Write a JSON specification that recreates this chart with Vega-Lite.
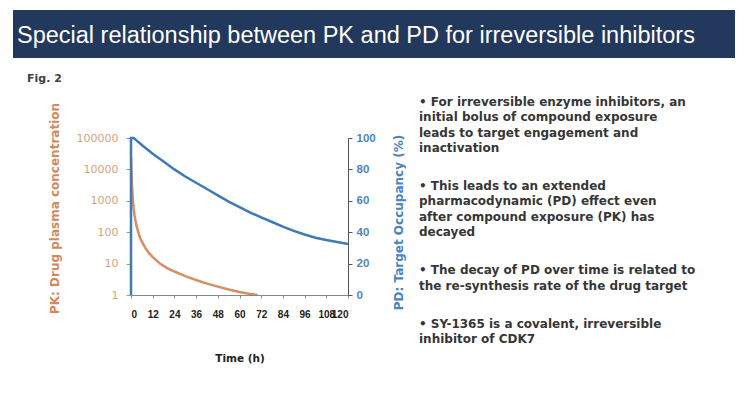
{
  "$schema": "https://vega.github.io/schema/vega-lite/v6.json",
  "background": "white",
  "padding": {"left": 13, "top": 10, "right": 0, "bottom": 0},
  "datasets": {
    "pk": [
      {"t": 0, "c": 25000}, {"t": 0.5, "c": 3500}, {"t": 1, "c": 1100}, {"t": 1.5, "c": 550},
      {"t": 2, "c": 330}, {"t": 3, "c": 165}, {"t": 4, "c": 100}, {"t": 5, "c": 68},
      {"t": 6, "c": 50}, {"t": 8, "c": 31}, {"t": 10, "c": 21.5}, {"t": 12, "c": 16},
      {"t": 16, "c": 10}, {"t": 20, "c": 7.2}, {"t": 24, "c": 5.6}, {"t": 30, "c": 4.0},
      {"t": 36, "c": 3.0}, {"t": 42, "c": 2.3}, {"t": 48, "c": 1.85}, {"t": 54, "c": 1.5},
      {"t": 60, "c": 1.25}, {"t": 66, "c": 1.07}, {"t": 70, "c": 1.0}
    ],
    "pd": [
      {"t": 0, "o": 0}, {"t": 0, "o": 100}, {"t": 1.5, "o": 100}, {"t": 3, "o": 98.5},
      {"t": 6, "o": 95.5}, {"t": 12, "o": 90}, {"t": 18, "o": 85}, {"t": 24, "o": 80},
      {"t": 30, "o": 75.5}, {"t": 36, "o": 71.5}, {"t": 42, "o": 67.5}, {"t": 48, "o": 63.5},
      {"t": 54, "o": 59.5}, {"t": 60, "o": 56}, {"t": 66, "o": 52.5}, {"t": 72, "o": 49.5},
      {"t": 78, "o": 46.5}, {"t": 84, "o": 43.5}, {"t": 90, "o": 40.8}, {"t": 96, "o": 38.5},
      {"t": 102, "o": 36.5}, {"t": 108, "o": 35}, {"t": 114, "o": 33.8}, {"t": 120, "o": 32.5}
    ],
    "notes": [
      {"line": 0, "text": "\u00a0\u00a0\u00a0\u00a0•\u00a0For irreversible enzyme inhibitors, an"},
      {"line": 1, "text": "\u00a0\u00a0\u00a0\u00a0\u00a0\u00a0\u00a0initial bolus of compound exposure"},
      {"line": 2, "text": "\u00a0\u00a0\u00a0\u00a0\u00a0\u00a0\u00a0leads to target engagement and"},
      {"line": 3, "text": "\u00a0\u00a0\u00a0\u00a0\u00a0\u00a0\u00a0inactivation"},
      {"line": 5.5, "text": "\u00a0\u00a0\u00a0\u00a0•\u00a0This leads to an extended"},
      {"line": 6.5, "text": "\u00a0\u00a0\u00a0\u00a0\u00a0\u00a0\u00a0pharmacodynamic (PD) effect even"},
      {"line": 7.5, "text": "\u00a0\u00a0\u00a0\u00a0\u00a0\u00a0\u00a0after compound exposure (PK) has"},
      {"line": 8.5, "text": "\u00a0\u00a0\u00a0\u00a0\u00a0\u00a0\u00a0decayed"},
      {"line": 11, "text": "\u00a0\u00a0\u00a0\u00a0•\u00a0The decay of PD over time is related to"},
      {"line": 12, "text": "\u00a0\u00a0\u00a0\u00a0\u00a0\u00a0\u00a0the re-synthesis rate of the drug target"},
      {"line": 14.5, "text": "\u00a0\u00a0\u00a0\u00a0•\u00a0SY-1365 is a covalent, irreversible"},
      {"line": 15.5, "text": "\u00a0\u00a0\u00a0\u00a0\u00a0\u00a0\u00a0inhibitor of CDK7"}
    ],
    "banner": [
      {"text": "Special relationship between PK and PD for irreversible inhibitors"}
    ]
  },
  "vconcat": [
    {
      "width": 722,
      "height": 48,
      "view": {"fill": "#22395d", "stroke": null},
      "data": {"name": "banner"},
      "mark": {"type": "text", "align": "left", "baseline": "alphabetic", "dx": 4, "dy": 9, "font": "Liberation Sans", "fontSize": 23.5, "color": "white"},
      "encoding": {
        "x": {"datum": 0, "type": "quantitative", "scale": {"domain": [0, 1]}, "axis": null},
        "text": {"field": "text"}
      }
    },
    {
      "hconcat": [
        {
          "width": 1,
          "height": 1,
          "view": {"stroke": null},
          "data": {"name": "banner"},
          "mark": {"type": "rect", "opacity": 0}
        },
        {
          "width": 217,
          "height": 157,
          "view": {"stroke": null},
          "title": {"text": "Fig. 2", "anchor": "start", "frame": "bounds", "font": "DejaVu Sans", "fontSize": 11, "fontWeight": "bold", "color": "#404040", "offset": 18, "dx": -21},
          "encoding": {
            "x": {"field": "t", "type": "quantitative", "scale": {"domain": [0, 120], "nice": false},
              "axis": {"values": [0, 12, 24, 36, 48, 60, 72, 84, 96, 108, 120], "labelOverlap": false, "grid": false, "title": "Time (h)",
                "labelFont": "Liberation Sans", "labelFontSize": 10, "labelFontWeight": "bold", "labelColor": "#222222",
                "labelPadding": 11, "tickSize": 3, "tickColor": "#888888", "domainColor": "#888888",
                "titleFont": "DejaVu Sans", "titleFontSize": 10.5, "titleFontWeight": "bold", "titleColor": "#222222", "titlePadding": 34}}
          },
          "layer": [
            {
              "data": {"name": "pk"},
              "mark": {"type": "line", "color": "#d98d60", "strokeWidth": 2.5, "clip": true},
              "encoding": {
                "y": {"field": "c", "type": "quantitative", "scale": {"type": "log", "domain": [1, 100000], "nice": false},
                  "axis": {"orient": "left", "values": [1, 10, 100, 1000, 10000, 100000], "format": "d", "grid": false,
                    "title": "PK: Drug plasma concentration",
                    "labelFont": "DejaVu Sans", "labelFontSize": 11, "labelColor": "#d9a27e", "labelPadding": 8,
                    "tickSize": 5, "tickColor": "#999999", "domainColor": "#999999",
                    "titleFont": "DejaVu Sans", "titleFontSize": 12, "titleFontWeight": "bold", "titleColor": "#d4895b",
                    "titlePadding": 15, "titleY": 70}}
              }
            },
            {
              "data": {"name": "pd"},
              "mark": {"type": "line", "color": "#3f7ab8", "strokeWidth": 2.5},
              "encoding": {
                "y": {"field": "o", "type": "quantitative", "scale": {"domain": [0, 100], "nice": false},
                  "axis": {"orient": "right", "values": [0, 20, 40, 60, 80, 100], "grid": false,
                    "title": "PD: Target Occupancy (%)",
                    "labelFont": "Liberation Sans", "labelFontSize": 11.5, "labelFontWeight": "bold", "labelColor": "#4d86c1", "labelPadding": 4,
                    "tickSize": 4, "tickColor": "#555555", "domainColor": "#555555",
                    "titleFont": "DejaVu Sans", "titleFontSize": 12, "titleFontWeight": "bold", "titleColor": "#4a83bf",
                    "titlePadding": 18, "titleAngle": 270, "titleBaseline": "top", "titleY": 84}}
              }
            }
          ],
          "resolve": {"scale": {"y": "independent"}}
        },
        {
          "width": 297,
          "height": 157,
          "view": {"stroke": "transparent"},
          "data": {"name": "notes"},
          "mark": {"type": "text", "align": "left", "baseline": "middle", "font": "DejaVu Sans", "fontSize": 12, "fontWeight": "bold", "color": "#363636"},
          "encoding": {
            "x": {"datum": 0, "type": "quantitative", "scale": {"domain": [0, 1]}, "axis": null},
            "y": {"field": "line", "type": "quantitative", "scale": {"domain": [2.354, 12.62], "reverse": true, "nice": false, "zero": false}, "axis": null},
            "text": {"field": "text"}
          }
        }
      ],
      "spacing": 13
    }
  ],
  "spacing": 15
}
